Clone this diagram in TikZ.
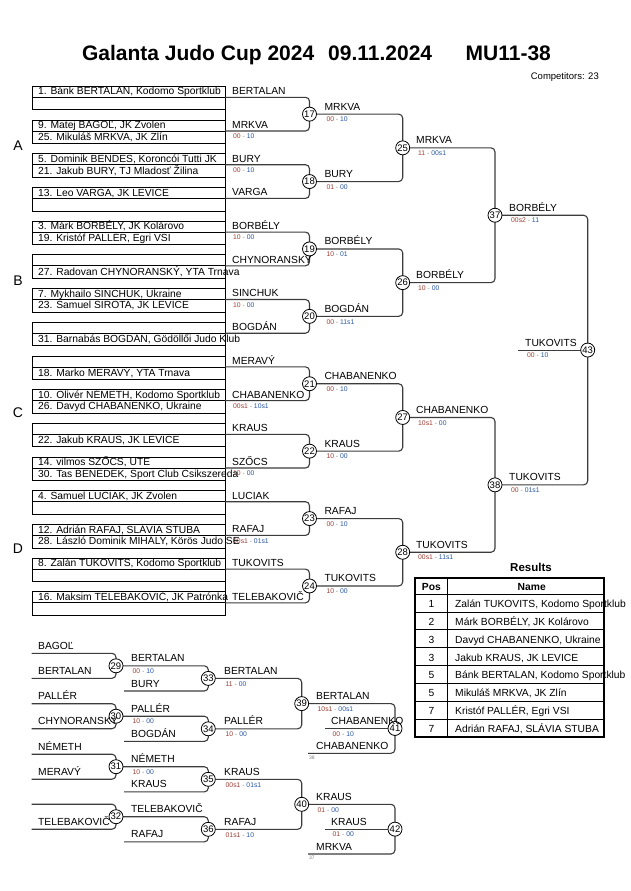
\documentclass[tikz,border=0pt]{standalone}
\usepackage{fontspec}
\setmainfont{Liberation Sans}
\definecolor{scA}{RGB}{160,60,50}
\definecolor{scB}{RGB}{40,85,165}
\definecolor{brc}{RGB}{60,60,60}
\newcommand\myscore[2]{\textcolor{scA}{#1}~\textcolor{gray}{-}~\textcolor{scB}{#2}}
\begin{document}
\begin{tikzpicture}[x=1pt,y=-1pt,
 box/.style={draw=black,line width=0.8pt},
 br/.style={draw=brc,line width=1.1pt,rounded corners=4pt},
 mc/.style={circle,draw=black,fill=white,line width=0.8pt,minimum size=14pt,inner sep=0pt,font=\fontsize{9.5}{10}\selectfont},
 nm/.style={anchor=base west,inner sep=0pt,font=\fontsize{10.3}{12}\selectfont},
 sc/.style={anchor=base west,inner sep=0pt,font=\fontsize{6.8}{8}\selectfont},
 smallnum/.style={anchor=base west,inner sep=0pt,font=\fontsize{5}{6}\selectfont,text=gray},
 ttl/.style={anchor=base west,inner sep=0pt,font=\fontsize{21}{24}\selectfont\bfseries},
 grp/.style={inner sep=0pt,font=\fontsize{14}{16}\selectfont},
 tcell/.style={anchor=base,inner sep=0pt,font=\fontsize{10.3}{12}\selectfont},
 thead/.style={anchor=base,inner sep=0pt,font=\fontsize{10.3}{12}\selectfont\bfseries}]
\fill[white] (0,0) rectangle (630,891);
\useasboundingbox (0,0) rectangle (630,891);

% title
\node[ttl] (t1) at (81.8,60) {Galanta Judo Cup 2024};
\node[ttl] (t2) at (328,60) {09.11.2024};
\node[ttl] (t3) at (465.5,60) {MU11-38};
\node[anchor=base east,inner sep=0pt,font=\fontsize{9.5}{11}\selectfont] (comp) at (599,80) {Competitors: 23};

% group letters
\node[grp] (gA) at (18,146) {A};
\node[grp] (gB) at (18,281) {B};
\node[grp] (gC) at (18,413) {C};
\node[grp] (gD) at (18,549) {D};

% slots
\draw[box] (225,86.3) -- (225,615.3);
\foreach \i in {1,...,16}
{
 \pgfmathsetmacro\T{86.3+(\i-1)*33.7}
 \draw[box] (32,\T) rectangle (225,\T+23.5);
 \draw[box] (32,\T+11) -- (225,\T+11);
 \coordinate (s\i) at (225,\T+11);
}

% slot preliminary scores
\foreach \i/\a/\b in {2/00/10,3/00/10,5/10/00,7/10/00,10/00s1/10s1,12/10/00,14/00s1/01s1}
{
 \pgfmathsetmacro\T{86.3+(\i-1)*33.7}
 \node[sc] (ss\i) at (233,\T+18.8) {\myscore{\a}{\b}};
}

% match coordinates
\foreach \m/\x/\yy in {17/309.5/114.15,18/309.5/181.55,19/309.5/248.95,20/309.5/316.35,
 21/309.5/383.75,22/309.5/451.15,23/309.5/518.55,24/309.5/585.95,
 25/402.7/147.85,26/402.7/282.65,27/402.7/417.45,28/402.7/552.25,
 37/495/215.25,38/495/484.85,43/587.7/350.05}
 \coordinate (m\m) at (\x,\yy);
\coordinate (f43) at (518.3,350.05);

% bracket lines
\draw[br] (s1) -| (m17) |- (s2);
\draw[br] (s3) -| (m18) |- (s4);
\draw[br] (s5) -| (m19) |- (s6);
\draw[br] (s7) -| (m20) |- (s8);
\draw[br] (s9) -| (m21) |- (s10);
\draw[br] (s11) -| (m22) |- (s12);
\draw[br] (s13) -| (m23) |- (s14);
\draw[br] (s15) -| (m24) |- (s16);
\draw[br] (m17) -| (m25) |- (m18);
\draw[br] (m19) -| (m26) |- (m20);
\draw[br] (m21) -| (m27) |- (m22);
\draw[br] (m23) -| (m28) |- (m24);
\draw[br] (m25) -| (m37) |- (m26);
\draw[br] (m27) -| (m38) |- (m28);
\draw[br] (m37) -| (m43) |- (m38);
\draw[br] (f43) -- (m43);

\foreach \m in {17,18,19,20,21,22,23,24,25,26,27,28,37,38,43}
 \node[mc] (c\m) at (m\m) {\m};

% slot texts
\foreach \i/\ta/\tb/\lab in {
1/{1. Bánk BERTALAN, Kodomo Sportklub}/{}/BERTALAN,
2/{9. Matej BAGOĽ, JK Zvolen}/{25. Mikuláš MRKVA, JK Zlín}/MRKVA,
3/{5. Dominik BENDES, Koroncói Tutti JK}/{21. Jakub BURY, TJ Mladosť Žilina}/BURY,
4/{13. Leo VARGA, JK LEVICE}/{}/VARGA,
5/{3. Márk BORBÉLY, JK Kolárovo}/{19. Kristóf PALLÉR, Egri VSI}/BORBÉLY,
6/{}/{27. Radovan CHYNORANSKÝ, YTA Trnava}/CHYNORANSKY,
7/{7. Mykhailo SINCHUK, Ukraine}/{23. Samuel SIROTA, JK LEVICE}/SINCHUK,
8/{}/{31. Barnabás BOGDÁN, Gödöllői Judo Klub}/BOGDÁN,
9/{}/{18. Marko MERAVÝ, YTA Trnava}/MERAVÝ,
10/{10. Olivér NÉMETH, Kodomo Sportklub}/{26. Davyd CHABANENKO, Ukraine}/CHABANENKO,
11/{}/{22. Jakub KRAUS, JK LEVICE}/KRAUS,
12/{14. vilmos SZŐCS, UTE}/{30. Tas BENEDEK, Sport Club Csikszereda}/SZŐCS,
13/{4. Samuel LUCIAK, JK Zvolen}/{}/LUCIAK,
14/{12. Adrián RAFAJ, SLÁVIA STUBA}/{28. László Dominik MIHÁLY, Körös Judo SE}/RAFAJ,
15/{8. Zalán TUKOVITS, Kodomo Sportklub}/{}/TUKOVITS,
16/{16. Maksim TELEBAKOVIČ, JK Patrónka}/{}/TELEBAKOVIČ}
{
 \pgfmathsetmacro\T{86.3+(\i-1)*33.7}
 \node[nm] (ra\i) at (38,\T+8.6) {\ta};
 \node[nm] (rb\i) at (38,\T+20.3) {\tb};
 \node[nm] (rl\i) at (232,\T+8.4) {\lab};
}

% winner labels and scores
\foreach \m/\x/\yy/\lab/\a/\b in {
17/324.3/114.15/MRKVA/00/10,
18/324.3/181.55/BURY/01/00,
19/324.3/248.95/BORBÉLY/10/01,
20/324.3/316.35/BOGDÁN/00/11s1,
21/324.3/383.75/CHABANENKO/00/10,
22/324.3/451.15/KRAUS/10/00,
23/324.3/518.55/RAFAJ/00/10,
24/324.3/585.95/TUKOVITS/10/00,
25/416/147.85/MRKVA/11/00s1,
26/416/282.65/BORBÉLY/10/00,
27/416/417.45/CHABANENKO/10s1/00,
28/416/552.25/TUKOVITS/00s1/11s1,
37/509/215.25/BORBÉLY/00s2/11,
38/509/484.85/TUKOVITS/00/01s1,
43/525/350.05/TUKOVITS/00/10}
{
 \node[nm] (w\m) at (\x,\yy-4) {\lab};
 \node[sc] (ws\m) at (\x+2,\yy+7.7) {\myscore{\a}{\b}};
}

% ---------------- repechage
\foreach \m/\x/\yy in {29/116/665.8,30/116/716.2,31/116/766.7,32/116/816.7,
 33/208.3/678.4,34/208.3/728.8,35/208.3/779.3,36/208.3/829.3,
 39/301.7/703.6,40/301.7/804.3,41/395/728.45,42/395/829.15}
 \coordinate (r\m) at (\x,\yy);

\foreach \m/\yy in {29/665.8,30/716.2,31/766.7,32/816.7}
{
 \coordinate (pu\m) at (31.7,\yy-12.5);
 \coordinate (pl\m) at (31.7,\yy+12.5);
 \draw[br] (pu\m) -| (r\m) |- (pl\m);
}
\foreach \m/\yy in {33/691,34/741.4,35/791.9,36/841.9}
 \coordinate (q\m) at (124,\yy);
\coordinate (q41) at (308,753.3);
\coordinate (q42) at (308,854);
\coordinate (b41) at (325,728.45);
\coordinate (b42) at (325,829.15);

\draw[br] (r29) -| (r33) |- (q33);
\draw[br] (r30) -| (r34) |- (q34);
\draw[br] (r31) -| (r35) |- (q35);
\draw[br] (r32) -| (r36) |- (q36);
\draw[br] (r33) -| (r39) |- (r34);
\draw[br] (r35) -| (r40) |- (r36);
\draw[br] (r39) -| (r41) |- (q41);
\draw[br] (r40) -| (r42) |- (q42);
\draw[br] (b41) -- (r41);
\draw[br] (b42) -- (r42);

\foreach \m in {29,30,31,32,33,34,35,36,39,40,41,42}
 \node[mc] (c\m) at (r\m) {\m};

\foreach \m/\yy/\la/\lb in {29/665.8/BAGOĽ/BERTALAN,30/716.2/PALLÉR/CHYNORANSKY,
 31/766.7/NÉMETH/MERAVÝ,32/816.7/{}/TELEBAKOVIČ}
{
 \node[nm] (pa\m) at (38,\yy-16.5) {\la};
 \node[nm] (pb\m) at (38,\yy+8.5) {\lb};
}
\foreach \m/\yy/\lab in {33/691/BURY,34/741.4/BOGDÁN,35/791.9/KRAUS,36/841.9/RAFAJ}
 \node[nm] (ql\m) at (131,\yy-4) {\lab};

\foreach \m/\x/\yy/\lab/\a/\b in {
29/131/665.8/BERTALAN/00/10,
30/131/716.2/PALLÉR/10/00,
31/131/766.7/NÉMETH/10/00,
33/224/678.4/BERTALAN/11/00,
34/224/728.8/PALLÉR/10/00,
35/224/779.3/KRAUS/00s1/01s1,
36/224/829.3/RAFAJ/01s1/10,
39/316/703.6/BERTALAN/10s1/00s1,
40/316/804.3/KRAUS/01/00,
41/331/728.45/CHABANENKO/00/10,
42/331/829.15/KRAUS/01/00}
{
 \node[nm] (rw\m) at (\x,\yy-4) {\lab};
 \node[sc] (rs\m) at (\x+1.5,\yy+7.7) {\myscore{\a}{\b}};
}
\node[nm] (rw32) at (131,812.7) {TELEBAKOVIČ};
\node[nm] (ql41) at (316,749.3) {CHABANENKO};
\node[nm] (ql42) at (316,850) {MRKVA};
\node[smallnum] (n38) at (309,759) {38};
\node[smallnum] (n37) at (309,859.7) {37};

% ---------------- results
\node[anchor=base,inner sep=0pt,font=\fontsize{11.5}{13}\selectfont\bfseries] (res) at (531,571) {Results};
\draw[line width=0.8pt] (415,594) -- (604.3,594);
\foreach \k in {1,...,7}
 \draw[line width=0.8pt] (415,594+17.9*\k) -- (604.3,594+17.9*\k);
\draw[line width=0.8pt] (447.7,578.3) -- (447.7,737.2);
\draw[line width=1.7pt] (415,578.3) rectangle (604.3,737.2);
\node[thead] (hp) at (431.4,590.8) {Pos};
\node[thead] (hn) at (531.7,590.8) {Name};
\foreach \k/\p/\nme in {1/1/{Zalán TUKOVITS, Kodomo Sportklub},2/2/{Márk BORBÉLY, JK Kolárovo},
 3/3/{Davyd CHABANENKO, Ukraine},4/3/{Jakub KRAUS, JK LEVICE},5/5/{Bánk BERTALAN, Kodomo Sportklub},
 6/5/{Mikuláš MRKVA, JK Zlín},7/7/{Kristóf PALLÉR, Egri VSI},8/7/{Adrián RAFAJ, SLÁVIA STUBA}}
{
 \node[tcell] (rp\k) at (431.4,594+17.9*\k-17.9+13.3) {\p};
 \node[nm] (rn\k) at (455,594+17.9*\k-17.9+13.3) {\nme};
}
\end{tikzpicture}
\end{document}
